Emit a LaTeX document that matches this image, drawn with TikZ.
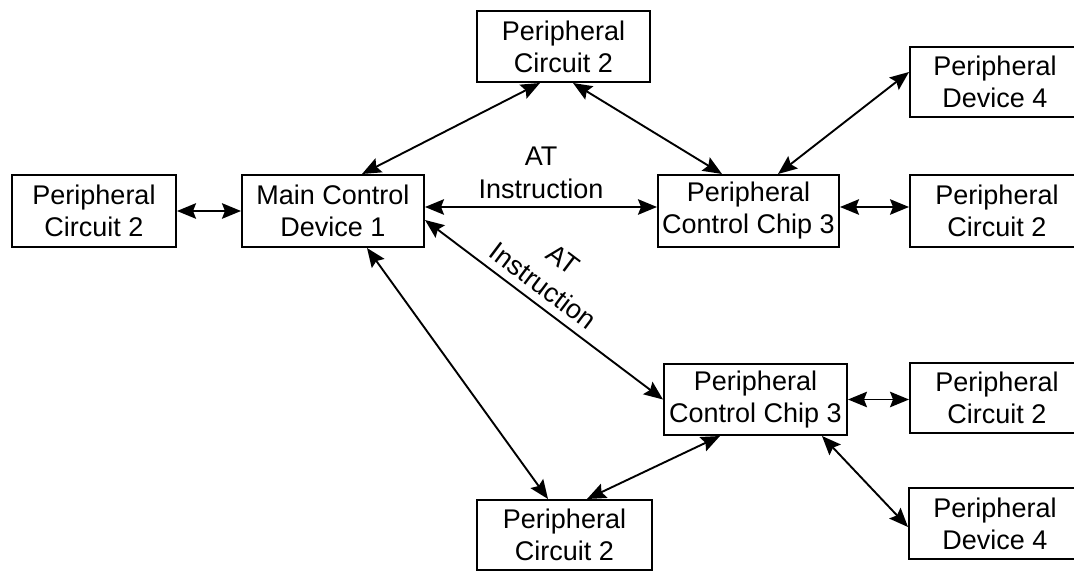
\documentclass[tikz,border=0pt]{standalone}
\usepackage{fontspec}
\setmainfont{Liberation Sans}
\usetikzlibrary{arrows.meta,calc}
\begin{document}
\begin{tikzpicture}[x=1pt,y=-1pt,
  box/.style={draw, line width=2pt, inner sep=0pt, align=center,
    font=\fontsize{27}{32}\selectfont},
  tip/.tip={Stealth[length=19pt,width=15.5pt,inset=3pt]},
  conn/.style={line width=1.9pt, tip-tip},
  lbl/.style={align=center, inner sep=0pt, font=\fontsize{27}{33}\selectfont}]
\useasboundingbox (0,0) rectangle (1074,572);
\node[box, minimum width=164pt, minimum height=72pt] (lc) at (94,211) {Peripheral\\Circuit 2};
\node[box, minimum width=182pt, minimum height=72pt] (main) at (333,211) {Main Control\\Device 1};
\node[box, minimum width=173pt, minimum height=71pt] (top) at (563.5,46.5) {Peripheral\\Circuit 2};
\node[box, minimum width=181pt, minimum height=72pt] (chipA) at (748.5,211) {Peripheral\\Control Chip 3};
\node[box, minimum width=170pt, minimum height=70pt] (devA) at (995,82) {Peripheral\\Device 4};
\node[box, minimum width=174pt, minimum height=72pt] (rcA) at (997,211) {Peripheral\\Circuit 2};
\node[box, minimum width=183pt, minimum height=71pt] (chipB) at (755.5,399.5) {Peripheral\\Control Chip 3};
\node[box, minimum width=174pt, minimum height=70pt] (rcB) at (997,398) {Peripheral\\Circuit 2};
\node[box, minimum width=175pt, minimum height=70pt] (bot) at (564.5,535) {Peripheral\\Circuit 2};
\node[box, minimum width=172pt, minimum height=71pt] (devB) at (995,523.5) {Peripheral\\Device 4};

\draw[conn] (lc.east) -- (main.west);
\draw[conn] ([xshift=29pt]main.north) -- ([xshift=-23.5pt]top.south);
\draw[conn] ([yshift=4pt]main.east) -- node[lbl, pos=0.5, above=7pt] {AT\\Instruction} ([yshift=4pt]chipA.west);
\draw[conn] ([xshift=9.5pt]top.south) -- ([xshift=-26.5pt]chipA.north);
\draw[conn] ([xshift=29.5pt]chipA.north) -- ([yshift=10pt]devA.west);
\draw[conn] ([yshift=4pt]chipA.east) -- ([yshift=4pt]rcA.west);
\draw[conn] ([yshift=-9pt]main.east) -- node[lbl, pos=0.45, sloped, above=8pt] {AT\\Instruction} (chipB.west);
\draw[conn] ([xshift=34pt]main.south) -- ([xshift=-16.5pt]bot.north);
\draw[conn] ([xshift=-35.5pt]chipB.south) -- ([xshift=22.5pt]bot.north);
\draw[conn] (chipB.east) -- (rcB.west |- chipB.east);
\draw[conn] ([xshift=66.5pt]chipB.south) -- ([yshift=-3.5pt]devB.west);
\end{tikzpicture}
\end{document}
